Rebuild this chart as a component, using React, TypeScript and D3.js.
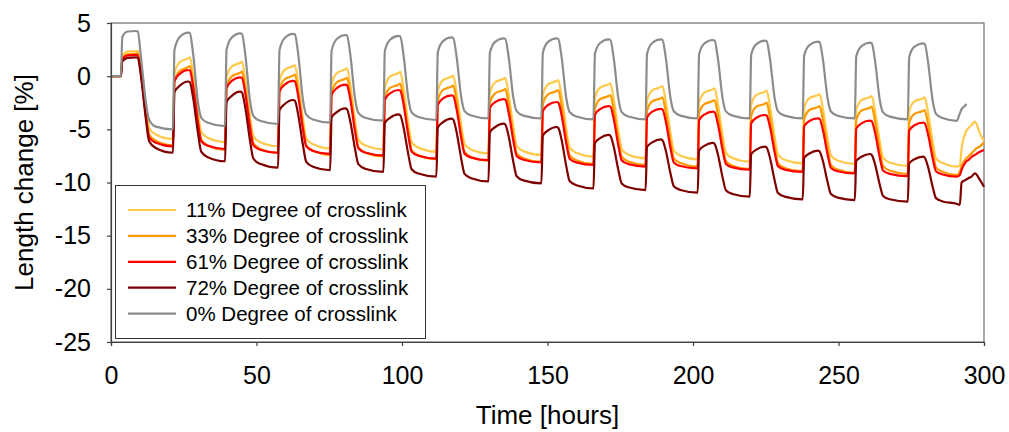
import React, { useEffect, useRef } from 'react';
import * as d3 from 'd3';

// time axis shared by all series (hours)
const hours = [0,
  3.4, 3.9, 5.7, 8.6, 9.2, 10.3, 12.0, 13.1, 15.4,
  21.3, 21.8, 23.6, 26.5, 27.1, 28.2, 29.9, 31.0, 33.3,
  39.2, 39.7, 41.5, 44.4, 45.0, 46.1, 47.8, 48.9, 51.2,
  57.4, 57.9, 59.7, 62.6, 63.2, 64.3, 66.0, 67.1, 69.4,
  75.3, 75.8, 77.6, 80.5, 81.1, 82.2, 83.9, 85.0, 87.3,
  93.6, 94.1, 95.9, 98.8, 99.4, 100.5, 102.2, 103.3, 105.6,
  111.8, 112.3, 114.1, 117.0, 117.6, 118.7, 120.4, 121.5, 123.8,
  129.7, 130.2, 132.0, 134.9, 135.5, 136.6, 138.3, 139.4, 141.7,
  147.9, 148.4, 150.2, 153.1, 153.7, 154.8, 156.5, 157.6, 159.9,
  165.8, 166.3, 168.1, 171.0, 171.6, 172.7, 174.4, 175.5, 177.8,
  183.7, 184.2, 186.0, 188.9, 189.5, 190.6, 192.3, 193.4, 195.7,
  201.6, 202.1, 203.9, 206.8, 207.4, 208.5, 210.2, 211.3, 213.6,
  219.5, 220.0, 221.8, 224.7, 225.3, 226.4, 228.1, 229.2, 231.5,
  237.7, 238.2, 240.0, 242.9, 243.5, 244.6, 246.3, 247.4, 249.7,
  255.6, 256.1, 257.9, 260.8, 261.4, 262.5, 264.2, 265.3, 267.6,
  273.8, 274.3, 276.1, 279.0, 279.6, 280.7, 282.4, 283.5, 285.8,
  290.6, 291.7, 292.3, 293.4, 294.0, 294.6, 295.7, 296.9, 298.6, 300.0];

const dc11 = [0,
  0, 1.9, 2.3, 2.35, 2.4, 0.74, -3.0, -4.9, -5.48,
  -5.9, 0.24, 1.31, 1.67, 1.77, 0.18, -3.41, -5.24, -5.8,
  -6.2, -0.15, 0.91, 1.26, 1.36, -0.23, -3.81, -5.64, -6.2,
  -6.6, -0.48, 0.59, 0.95, 1.05, -0.52, -4.05, -5.86, -6.41,
  -6.8, -0.77, 0.29, 0.64, 0.74, -0.78, -4.21, -5.97, -6.5,
  -6.88, -1.06, -0.04, 0.3, 0.4, -1.1, -4.47, -6.2, -6.72,
  -7.1, -1.38, -0.38, -0.05, 0.05, -1.41, -4.7, -6.38, -6.89,
  -7.26, -1.57, -0.58, -0.25, -0.15, -1.6, -4.87, -6.54, -7.05,
  -7.41, -1.77, -0.78, -0.46, -0.36, -1.8, -5.05, -6.7, -7.21,
  -7.57, -2.05, -1.08, -0.77, -0.67, -2.08, -5.26, -6.88, -7.38,
  -7.73, -2.29, -1.34, -1.03, -0.93, -2.31, -5.41, -6.99, -7.48,
  -7.82, -2.48, -1.54, -1.24, -1.14, -2.52, -5.62, -7.21, -7.69,
  -8.04, -2.7, -1.76, -1.46, -1.36, -2.73, -5.81, -7.38, -7.86,
  -8.2, -2.98, -2.07, -1.78, -1.68, -3.0, -5.96, -7.47, -7.93,
  -8.26, -3.15, -2.25, -1.97, -1.87, -3.19, -6.15, -7.66, -8.12,
  -8.45, -3.28, -2.38, -2.09, -1.99, -3.29, -6.22, -7.72, -8.17,
  -8.5, -8.45, -6.8, -5.5, -5.1, -4.9, -4.6, -4.28, -5.38, -6.1];

const dc33 = [0,
  0, 1.7, 2.05, 2.1, 2.15, 0.42, -3.47, -5.46, -6.07,
  -6.5, -0.54, 0.5, 0.85, 0.95, -0.62, -4.15, -5.96, -6.51,
  -6.9, -1.04, -0.02, 0.32, 0.42, -1.1, -4.53, -6.29, -6.82,
  -7.2, -1.32, -0.29, 0.05, 0.15, -1.36, -4.76, -6.49, -7.02,
  -7.4, -1.6, -0.59, -0.25, -0.15, -1.63, -4.96, -6.66, -7.18,
  -7.55, -2.07, -1.11, -0.8, -0.7, -2.12, -5.31, -6.95, -7.44,
  -7.8, -2.26, -1.3, -0.98, -0.88, -2.29, -5.48, -7.1, -7.6,
  -7.95, -2.55, -1.61, -1.3, -1.2, -2.57, -5.65, -7.23, -7.71,
  -8.05, -2.65, -1.71, -1.4, -1.3, -2.69, -5.82, -7.42, -7.9,
  -8.25, -3.07, -2.16, -1.87, -1.77, -3.09, -6.05, -7.56, -8.02,
  -8.35, -3.26, -2.37, -2.09, -1.99, -3.29, -6.22, -7.72, -8.17,
  -8.5, -3.49, -2.62, -2.34, -2.24, -3.54, -6.47, -7.97, -8.42,
  -8.75, -3.74, -2.87, -2.59, -2.49, -3.78, -6.69, -8.17, -8.63,
  -8.95, -4.04, -3.18, -2.91, -2.81, -4.07, -6.9, -8.35, -8.79,
  -9.1, -4.12, -3.24, -2.97, -2.87, -4.14, -6.98, -8.44, -8.88,
  -9.2, -4.38, -3.54, -3.28, -3.18, -4.4, -7.16, -8.57, -8.99,
  -9.3, -9.0, -8.5, -7.9, -7.7, -7.55, -7.26, -6.9, -6.6, -6.25];

const dc61 = [0,
  0, 1.6, 1.95, 2.0, 1.95, 0.28, -3.76, -5.74, -6.26,
  -6.6, -0.5, 0.22, 0.58, 0.53, -0.91, -4.4, -6.11, -6.55,
  -6.85, -1.12, -0.45, -0.11, -0.16, -1.53, -4.86, -6.49, -6.92,
  -7.2, -1.46, -0.79, -0.45, -0.5, -1.82, -5.04, -6.61, -7.03,
  -7.3, -1.78, -1.13, -0.8, -0.85, -2.13, -5.26, -6.78, -7.18,
  -7.45, -2.22, -1.61, -1.3, -1.35, -2.59, -5.62, -7.1, -7.49,
  -7.75, -2.69, -2.1, -1.8, -1.85, -3.02, -5.89, -7.29, -7.66,
  -7.9, -3.01, -2.44, -2.15, -2.2, -3.34, -6.14, -7.5, -7.86,
  -8.1, -3.28, -2.71, -2.43, -2.48, -3.61, -6.4, -7.76, -8.11,
  -8.35, -3.64, -3.09, -2.81, -2.86, -3.95, -6.62, -7.93, -8.27,
  -8.5, -3.88, -3.34, -3.07, -3.12, -4.19, -6.82, -8.11, -8.45,
  -8.67, -4.14, -3.61, -3.34, -3.39, -4.43, -7.0, -8.25, -8.58,
  -8.8, -4.42, -3.91, -3.65, -3.7, -4.72, -7.23, -8.46, -8.79,
  -9.0, -4.72, -4.22, -3.97, -4.02, -5.01, -7.44, -8.63, -8.94,
  -9.15, -4.93, -4.44, -4.19, -4.24, -5.23, -7.68, -8.88, -9.19,
  -9.4, -5.12, -4.62, -4.37, -4.42, -5.39, -7.77, -8.94, -9.25,
  -9.45, -9.3, -8.8, -8.2, -8.0, -7.9, -7.6, -7.4, -7.1, -6.94];

const dc72 = [0,
  0, 1.4, 1.72, 1.77, 1.72, -0.02, -4.06, -6.12, -6.75,
  -7.2, -1.5, -0.9, -0.5, -0.58, -2.0, -5.37, -7.1, -7.62,
  -8.0, -2.44, -1.85, -1.46, -1.54, -2.89, -6.1, -7.74, -8.24,
  -8.6, -3.19, -2.62, -2.24, -2.32, -3.56, -6.54, -8.06, -8.52,
  -8.85, -3.9, -3.38, -3.03, -3.11, -4.22, -6.91, -8.28, -8.7,
  -9.0, -4.41, -3.92, -3.6, -3.68, -4.77, -7.4, -8.75, -9.16,
  -9.45, -4.82, -4.33, -4.0, -4.08, -5.18, -7.83, -9.19, -9.6,
  -9.9, -5.28, -4.8, -4.47, -4.55, -5.59, -8.12, -9.41, -9.8,
  -10.08, -5.58, -5.1, -4.78, -4.86, -5.93, -8.53, -9.86, -10.26,
  -10.55, -6.28, -5.83, -5.53, -5.61, -6.57, -8.9, -10.09, -10.45,
  -10.71, -6.66, -6.23, -5.94, -6.02, -6.94, -9.2, -10.36, -10.71,
  -10.96, -6.98, -6.56, -6.28, -6.36, -7.29, -9.56, -10.72, -11.08,
  -11.33, -7.34, -6.91, -6.63, -6.71, -7.62, -9.85, -10.99, -11.33,
  -11.58, -7.69, -7.27, -7.0, -7.08, -7.93, -10.02, -11.09, -11.42,
  -11.65, -7.97, -7.58, -7.32, -7.4, -8.22, -10.23, -11.26, -11.58,
  -11.8, -8.2, -7.82, -7.57, -7.65, -8.46, -10.45, -11.47, -11.78,
  -12.0, -12.1, -10.0, -9.8, -9.7, -9.6, -9.45, -9.14, -9.76, -10.4];

const dc0 = [0,
  0, 3.7, 4.2, 4.25, 4.2, 1.8, -2.5, -4.1, -4.75,
  -5.0, 2.45, 3.68, 4.09, 4.04, 2.16, -2.5, -3.91, -4.39,
  -4.7, 2.46, 3.64, 4.03, 3.98, 2.15, -2.37, -3.73, -4.2,
  -4.5, 2.45, 3.59, 3.97, 3.92, 2.14, -2.28, -3.62, -4.08,
  -4.37, 2.39, 3.5, 3.87, 3.82, 2.1, -2.17, -3.46, -3.91,
  -4.19, 2.35, 3.42, 3.78, 3.73, 2.04, -2.14, -3.41, -3.84,
  -4.12, 2.25, 3.3, 3.65, 3.6, 1.97, -2.06, -3.28, -3.7,
  -3.97, 2.2, 3.22, 3.56, 3.51, 1.9, -2.09, -3.29, -3.71,
  -3.97, 2.2, 3.22, 3.56, 3.51, 1.88, -2.15, -3.37, -3.79,
  -4.06, 2.11, 3.12, 3.46, 3.41, 1.81, -2.18, -3.38, -3.8,
  -4.06, 2.11, 3.12, 3.46, 3.41, 1.83, -2.11, -3.3, -3.71,
  -3.97, 2.07, 3.07, 3.4, 3.35, 1.78, -2.13, -3.31, -3.71,
  -3.97, 2.02, 3.01, 3.34, 3.29, 1.73, -2.14, -3.31, -3.71,
  -3.97, 1.94, 2.92, 3.24, 3.19, 1.65, -2.17, -3.32, -3.72,
  -3.97, 1.87, 2.83, 3.15, 3.1, 1.56, -2.26, -3.41, -3.81,
  -4.06, 1.8, 2.77, 3.09, 3.04, 1.49, -2.38, -3.54, -3.94,
  -4.2, -3.5, -3.1, -2.8, -2.62, null, null, null, null, null];

const seriesNames = [
  '11% Degree of crosslink',
  '33% Degree of crosslink',
  '61% Degree of crosslink',
  '72% Degree of crosslink',
  '0% Degree of crosslink',
];
const seriesValues = [dc11, dc33, dc61, dc72, dc0];
const seriesColors = ['#ffc94a', '#ff9900', '#ff0000', '#800000', '#8c8c8c'];

const xTicks = [0, 50, 100, 150, 200, 250, 300];
const yTicks = [-25, -20, -15, -10, -5, 0, 5];

const W = 1009;
const H = 432;
const M = { left: 111, right: 984, top: 23, bottom: 342 };
const FONT = '"Liberation Sans", Arial, sans-serif';

const App = () => {
  const svgRef = useRef(null);

  const xScale = d3.scaleLinear().domain([0, 300]).range([M.left, M.right]);
  const yScale = d3.scaleLinear().domain([-25, 5]).range([M.bottom, M.top]);

  useEffect(() => {
    const svg = d3.select(svgRef.current);
    svg.selectAll('*').remove();

    // plot frame
    svg
      .append('rect')
      .attr('x', M.left)
      .attr('y', M.top)
      .attr('width', M.right - M.left)
      .attr('height', M.bottom - M.top)
      .attr('fill', 'none')
      .attr('stroke', '#6e6e6e')
      .attr('stroke-width', 1.2);

    const line = d3
      .line<number | null>()
      .defined((d) => d !== null)
      .x((d, i) => xScale(hours[i]))
      .y((d) => yScale(d as number))
      .curve(d3.curveMonotoneX);

    seriesValues.forEach((vals, k) => {
      svg
        .append('path')
        .datum(vals)
        .attr('fill', 'none')
        .attr('stroke', seriesColors[k])
        .attr('stroke-width', 2.2)
        .attr('stroke-linejoin', 'round')
        .attr('d', line);
    });

    // axes
    const yAxis = svg
      .append('g')
      .attr('transform', `translate(${M.left},0)`)
      .call(d3.axisLeft(yScale).tickValues(yTicks).tickSize(4).tickPadding(16).tickFormat(d3.format('d')));
    const xAxis = svg
      .append('g')
      .attr('transform', `translate(0,${M.bottom})`)
      .call(d3.axisBottom(xScale).tickValues(xTicks).tickSize(4).tickPadding(20).tickFormat(d3.format('d')));

    [xAxis, yAxis].forEach((g) => {
      g.select('.domain').attr('stroke', '#404040').attr('stroke-width', 1.2);
      g.selectAll('.tick line').attr('stroke', '#404040').attr('stroke-width', 1.2);
      g.selectAll('.tick text')
        .attr('fill', '#000')
        .style('font-family', FONT)
        .style('font-size', '25px');
    });
    yAxis.selectAll('.tick text').text((d: any) => (d < 0 ? '-' + Math.abs(d) : String(d)));

    // axis titles
    svg
      .append('text')
      .attr('x', (M.left + M.right) / 2)
      .attr('y', 424)
      .attr('text-anchor', 'middle')
      .style('font-family', FONT)
      .style('font-size', '26px')
      .text('Time [hours]');
    svg
      .append('text')
      .attr('transform', `translate(33, ${(M.top + M.bottom) / 2}) rotate(-90)`)
      .attr('text-anchor', 'middle')
      .style('font-family', FONT)
      .style('font-size', '26px')
      .text('Length change [%]');

    // legend
    const lg = svg.append('g');
    lg.append('rect')
      .attr('x', 115.5)
      .attr('y', 185.5)
      .attr('width', 310)
      .attr('height', 153)
      .attr('fill', '#fff')
      .attr('stroke', '#333')
      .attr('stroke-width', 1);
    seriesNames.forEach((name, k) => {
      const cy = 210 + k * 25.9;
      lg.append('line')
        .attr('x1', 128)
        .attr('x2', 176)
        .attr('y1', cy)
        .attr('y2', cy)
        .attr('stroke', seriesColors[k])
        .attr('stroke-width', 2.2);
      lg.append('text')
        .attr('x', 186)
        .attr('y', cy + 7)
        .style('font-family', FONT)
        .style('font-size', '20.5px')
        .attr('fill', '#000')
        .text(name);
    });
  }, []);

  return (
    <svg
      ref={svgRef}
      width={W}
      height={H}
      style={{ position: 'absolute', left: 0, top: 0, background: '#fff' }}
    />
  );
};

export default App;
